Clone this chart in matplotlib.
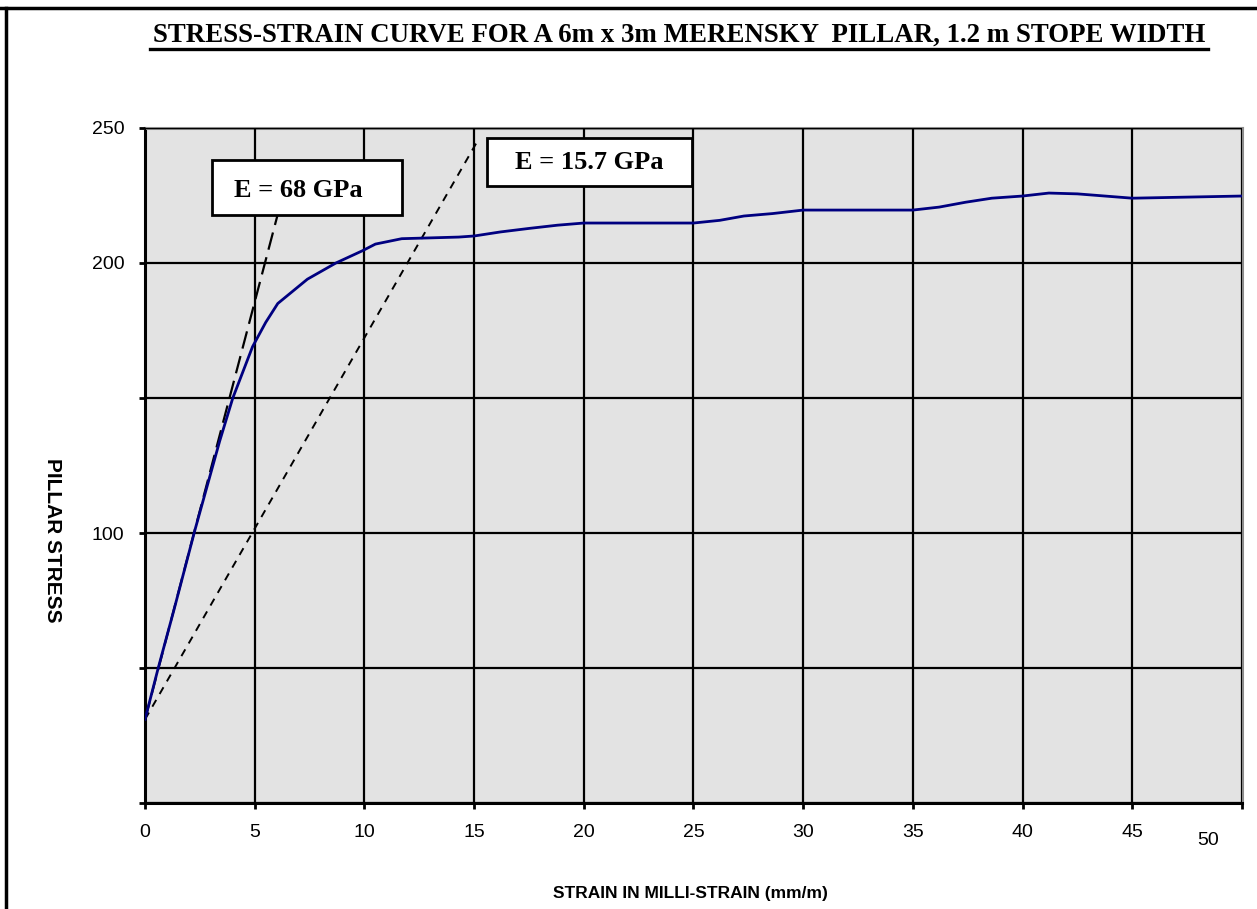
import matplotlib.pyplot as plt
from matplotlib.patches import Rectangle
from matplotlib.lines import Line2D

# Stress-strain curve
strain = [0, 0.6, 1.3, 2.27, 3.4, 4.0, 4.9, 5.5, 6.05, 7.4, 8.7, 9.9, 10.5, 11.7,
          14.3, 15.0, 16.2, 17.5, 18.8, 20.0, 25.0, 26.2, 27.3, 28.6, 30.0, 35.0,
          36.2, 37.4, 38.6, 40.0, 41.2, 42.5, 45.0, 50.0]
stress = [31, 50, 71, 101, 134, 150, 169, 178, 185, 194, 200, 204.5, 207, 209,
          209.6, 210, 211.5, 212.8, 214, 214.8, 214.8, 215.8, 217.4, 218.3, 219.6, 219.6,
          220.7, 222.5, 224, 224.8, 225.9, 225.6, 224, 224.8]

# Modulus lines (start, end)
e68_x = [0, 6.5]
e68_y = [31, 232]
e157_x = [0, 15.1]
e157_y = [31, 244.4]

x_ticks = [0, 5, 10, 15, 20, 25, 30, 35, 40, 45, 50]
x_labels = ['0', '5', '10', '15', '20', '25', '30', '35', '40', '45', '']
y_ticks = [0, 50, 100, 150, 200, 250]
y_labels = ['', '', '100', '', '200', '250']

fig = plt.figure(figsize=(12.57, 9.09), dpi=100)
ax = fig.add_axes([0.1154, 0.1166, 0.8726, 0.7426])
ax.set_facecolor('#e3e3e3')

ax.plot(strain, stress, color='#000080', lw=2, zorder=4)
ax.plot(e68_x, e68_y, color='black', lw=1.6, dashes=(8, 3.5), zorder=3)
ax.plot(e157_x, e157_y, color='black', lw=1.4, dashes=(4, 3.5), zorder=3)

ax.set_xlim(0, 50)
ax.set_ylim(0, 250)
ax.set_xticks(x_ticks)
ax.set_xticklabels(x_labels, fontname='Liberation Sans', fontsize=14)
ax.set_yticks(y_ticks)
ax.set_yticklabels(y_labels, fontname='Liberation Sans', fontsize=14)
ax.tick_params(direction='out', length=4, width=2, pad=11, color='black')
ax.text(48.45, -13.7, '50', fontname='Liberation Sans', fontsize=14,
        ha='center', va='center')

ax.grid(True, color='black', lw=1.6)
ax.set_axisbelow(False)
for side in ['left', 'bottom']:
    ax.spines[side].set_linewidth(2.2)
    ax.spines[side].set_color('black')
for side in ['top', 'right']:
    ax.spines[side].set_linewidth(2.2)
    ax.spines[side].set_color('#8c8c8c')

# annotation boxes
ax.add_patch(Rectangle((0.0611, 0.8711), 0.1732, 0.0815, transform=ax.transAxes,
                       facecolor='white', edgecolor='black', lw=2, zorder=6, clip_on=False))
ax.text(0.1395, 0.908, 'E = 68 GPa', transform=ax.transAxes, fontname='Liberation Serif',
        fontweight='bold', fontsize=19, ha='center', va='center', zorder=7)
ax.add_patch(Rectangle((0.3118, 0.9141), 0.1869, 0.0711, transform=ax.transAxes,
                       facecolor='white', edgecolor='black', lw=2, zorder=6, clip_on=False))
ax.text(0.4047, 0.9496, 'E = 15.7 GPa', transform=ax.transAxes, fontname='Liberation Serif',
        fontweight='bold', fontsize=19, ha='center', va='center', zorder=7)

# titles
fig.text(0.5405, 0.9615, 'STRESS-STRAIN CURVE FOR A 6m x 3m MERENSKY  PILLAR, 1.2 m STOPE WIDTH',
         fontname='Liberation Serif', fontweight='bold', fontsize=19.4, ha='center', va='center')
fig.add_artist(Line2D([0.1195, 0.961], [0.9466, 0.9466], color='black', lw=2.4))
fig.text(0.5489, 0.0176, 'STRAIN IN MILLI-STRAIN (mm/m)', fontname='Liberation Sans',
         fontweight='bold', fontsize=12.5, ha='center', va='center')
fig.text(0.0414, 0.406, 'PILLAR STRESS', fontname='Liberation Sans', fontweight='bold',
         fontsize=15, rotation=-90, ha='center', va='center')

# page frame
fig.add_artist(Line2D([0, 1], [0.991, 0.991], color='black', lw=2.5))
fig.add_artist(Line2D([0.0048, 0.0048], [0, 0.991], color='black', lw=2.5))

fig.savefig('out.png', dpi=100)
